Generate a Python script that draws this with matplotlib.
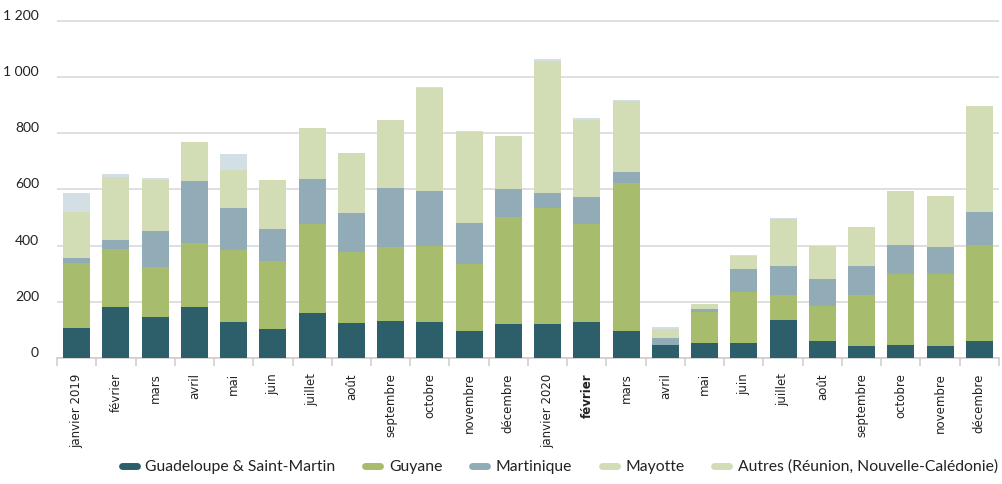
import matplotlib
matplotlib.use("Agg")
import matplotlib.pyplot as plt
from matplotlib.lines import Line2D
import numpy as np

months = ["janvier 2019", "février", "mars", "avril", "mai", "juin", "juillet", "août",
          "septembre", "octobre", "novembre", "décembre",
          "janvier 2020", "février", "mars", "avril", "mai", "juin", "juillet", "août",
          "septembre", "octobre", "novembre", "décembre"]

guadeloupe = [108, 182, 147, 182, 129, 104, 161, 125, 133, 129, 97, 122,
              122, 129, 97, 47, 54, 54, 136, 62, 44, 47, 44, 62]
guyane = [230, 206, 177, 227, 256, 242, 316, 253, 262, 270, 238, 380,
          412, 348, 525, 0, 110, 182, 89, 124, 181, 252, 255, 340]
martinique = [16, 32, 128, 221, 149, 113, 160, 138, 210, 195, 145, 99,
              53, 96, 40, 25, 11, 81, 103, 96, 103, 103, 96, 118]
mayotte = [166, 224, 181, 138, 135, 174, 181, 213, 241, 366, 324, 188,
           469, 273, 252, 32, 18, 46, 167, 117, 138, 192, 181, 376]
autres = [67, 10, 7, 0, 56, 0, 0, 0, 0, 3, 3, 0,
          7, 7, 3, 7, 0, 4, 3, 0, 0, 0, 0, 0]

series_names = ["Guadeloupe & Saint-Martin", "Guyane", "Martinique", "Mayotte",
                "Autres (Réunion, Nouvelle-Calédonie)"]
colors = ["#2d5f6b", "#a7bc6d", "#91acb6", "#d2ddb6", "#d2e0e6"]
legend_colors = ["#2d5f6b", "#a7bc6d", "#91acb6", "#d2ddb6", "#d2ddb6"]
y_ticks = [0, 200, 400, 600, 800, 1000, 1200]
y_labels = ["0", "200", "400", "600", "800", "1 000", "1 200"]

cond = ["Lato", "DejaVu Sans"]

fig = plt.figure(figsize=(10.02, 4.84), dpi=100)
ax = fig.add_axes([57/1002, 1 - 358/484, (999-57)/1002, (358-14.9)/484])

x = np.arange(len(months))
data = [guadeloupe, guyane, martinique, mayotte, autres]
bottom = np.zeros(len(months))
for vals, c in zip(data, colors):
    v = np.array(vals, dtype=float)
    ax.bar(x, v, bottom=bottom, width=0.69, color=c, zorder=3, linewidth=0)
    bottom += v

ax.set_xlim(-0.5, len(months) - 0.5)
ax.set_ylim(0, 1220)
ax.set_yticks(y_ticks)
ax.set_yticklabels([])
for t, l in zip(y_ticks, y_labels):
    ax.annotate(l, xy=(0, t), xycoords=("axes fraction", "data"),
                xytext=(-18, 5), textcoords="offset pixels", ha="right", va="center",
                fontsize=10, color="#222222", family=cond, annotation_clip=False)
ax.tick_params(axis="y", length=0)
ax.yaxis.grid(True, color="#d9d9d9", linewidth=1.2, zorder=0)
for s in ["left", "right", "top"]:
    ax.spines[s].set_visible(False)
ax.spines["bottom"].set_color("#cfcfcf")
ax.spines["bottom"].set_linewidth(1.2)

ax.set_xticks(x)
ax.set_xticklabels(months, rotation=90, fontsize=8.5, color="#222222", family="DejaVu Sans",
                   va="top", ha="center")
for i, lab in enumerate(ax.get_xticklabels()):
    if i == 13:
        lab.set_fontweight("bold")
ax.tick_params(axis="x", which="major", length=0, pad=11)
ax.set_xticks(np.arange(-0.5, len(months) + 0.5, 1), minor=True)
ax.tick_params(axis="x", which="minor", length=6, color="#cfcfcf", width=1.2)

handles = [Line2D([0], [0], color=c, linewidth=5, solid_capstyle="round") for c in legend_colors]
leg = fig.legend(handles, series_names, loc="center", bbox_to_anchor=(560/1002, 1 - 467/484),
                 ncol=5, frameon=False, handlelength=0.95, handletextpad=0.55, columnspacing=1.9,
                 prop={"family": cond, "size": 11.3})
for t in leg.get_texts():
    t.set_color("#222222")

fig.savefig("out.png", dpi=100)
